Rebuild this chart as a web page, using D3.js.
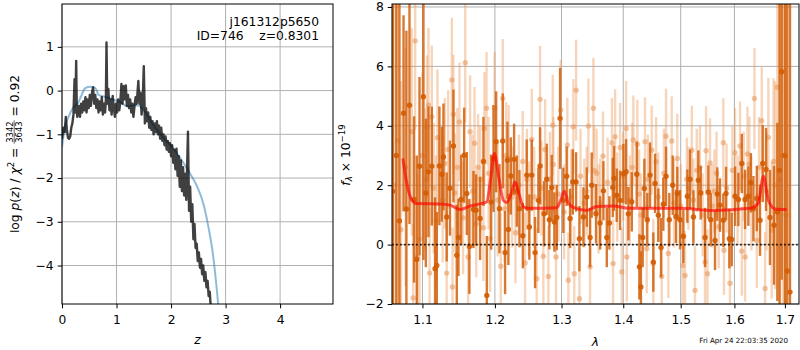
<!DOCTYPE html>
<html>
<head>
<meta charset="utf-8">
<script src="https://cdn.jsdelivr.net/npm/d3@7"></script>
<style>
body { margin: 0; background: #fff; }
text { font-family: "DejaVu Sans", sans-serif; fill: #000; }
</style>
</head>
<body>
<div id="chart-area"></div>
<script>
// p(z) panel
var pzZ = [0.00,0.025,0.05,0.07,0.09,0.11,0.13,0.15,0.17,0.19,0.21,0.23,0.245,0.26,0.27,0.28,0.29,0.31,0.33,0.35,0.37,0.39,0.41,0.43,0.45,0.47,0.49,0.51,0.53,0.55,0.57,0.59,0.61,0.63,0.65,0.67,0.69,0.71,0.73,0.75,0.77,0.79,0.805,0.816,0.83,0.85,0.87,0.89,0.91,0.93,0.95,0.97,0.99,1.01,1.03,1.05,1.07,1.09,1.11,1.13,1.15,1.17,1.19,1.21,1.23,1.25,1.27,1.29,1.31,1.33,1.35,1.37,1.40,1.42,1.44,1.46,1.48,1.50,1.52,1.54,1.56,1.58,1.60,1.62,1.64,1.66,1.68,1.70,1.72,1.74,1.76,1.78,1.80,1.82,1.84,1.86,1.88,1.90,1.92,1.94,1.96,1.98,2.00,2.02,2.04,2.06,2.08,2.10,2.12,2.14,2.16,2.18,2.20,2.22,2.24,2.26,2.28,2.31,2.33,2.35,2.37,2.39,2.41,2.43,2.45,2.47,2.49,2.51,2.53,2.55,2.57,2.59,2.61,2.63,2.65,2.67,2.69,2.71,2.73,2.75];
var pzLog = [-1.10,-0.85,-0.95,-0.60,-0.90,-1.08,-1.10,-1.05,-0.85,-0.75,-0.55,0.26,-0.50,0.68,-0.35,-0.60,-0.50,-0.35,-0.60,-0.30,-0.50,-0.25,-0.45,-0.15,-0.50,-0.20,-0.40,-0.10,-0.35,-0.05,0.07,-0.30,-0.10,-0.40,-0.20,-0.50,-0.25,-0.45,-0.15,-0.55,-0.30,-0.50,-0.20,1.10,-0.30,0.04,-0.45,-0.20,-0.55,-0.12,-0.40,-0.60,-0.30,-0.50,-0.20,-0.45,-0.25,0.15,-0.30,0.10,-0.20,0.12,-0.35,-0.10,-0.40,-0.20,-0.50,-0.30,-0.60,-0.35,-0.15,-0.30,0.22,-0.30,-0.05,-0.55,-0.25,0.56,-0.75,-0.40,-0.70,-0.50,-0.85,-0.60,-0.90,-0.70,-1.00,-0.75,-0.95,-0.70,-1.00,-0.80,-1.10,-0.85,-1.15,-1.00,-1.25,-1.05,-1.35,-1.15,-1.40,-1.20,-1.50,-1.25,-1.65,-1.35,-1.80,-1.33,-1.95,-1.50,-2.20,-1.60,-2.30,-1.75,-2.40,-1.90,-2.50,-0.94,-2.75,-2.20,-3.00,-2.60,-3.40,-3.05,-3.60,-3.50,-3.90,-3.70,-4.05,-3.85,-4.20,-4.00,-4.35,-4.15,-4.50,-4.35,-4.70,-4.60,-5.00,-5.20];
var priorZ = [0,0.05,0.12,0.2,0.3,0.36,0.42,0.5,0.58,0.63,0.67,0.75,0.88,1.06,1.2,1.3,1.4,1.5,1.67,1.86,2.04,2.2,2.35,2.47,2.6,2.69,2.77,2.83,2.86,2.9];
var priorLog = [-1.3,-0.85,-0.6,-0.4,-0.27,-0.1,0.05,0.09,0.08,0.02,-0.1,-0.13,-0.18,-0.26,-0.36,-0.34,-0.34,-0.45,-0.78,-1.08,-1.32,-1.6,-1.9,-2.17,-2.62,-3.15,-3.76,-4.44,-4.83,-5.5];
var zTicks = [0, 1, 2, 3, 4];
var pzTicks = [-4, -3, -2, -1, 0, 1];

// spectrum panel
var darkWave = [1.0615,1.0660,1.0700,1.0753,1.0790,1.0830,1.0890,1.0925,1.0961,1.1013,1.1045,1.1080,1.1124,1.1168,1.1191,1.1226,1.1259,1.1281,1.1325,1.1370,1.1417,1.1463,1.1486,1.1523,1.1565,1.1602,1.1638,1.1695,1.1732,1.1789,1.1836,1.1884,1.1946,1.1980,1.2018,1.2066,1.2114,1.2148,1.2182,1.2196,1.2231,1.2280,1.2320,1.2359,1.2410,1.2468,1.2507,1.2543,1.2593,1.2643,1.2669,1.2730,1.2771,1.2811,1.2848,1.2888,1.2925,1.2977,1.3028,1.3080,1.3134,1.3177,1.3229,1.3282,1.3346,1.3400,1.3453,1.3480,1.3550,1.3616,1.3670,1.3726,1.3769,1.3825,1.3846,1.3891,1.3947,1.4003,1.4048,1.4087,1.4144,1.4229,1.4273,1.4300,1.4331,1.4359,1.4410,1.4458,1.4515,1.4545,1.4603,1.4650,1.4690,1.4738,1.4796,1.4857,1.4916,1.4939,1.4988,1.5048,1.5121,1.5169,1.5231,1.5321,1.5365,1.5445,1.5506,1.5551,1.5631,1.5674,1.5725,1.5788,1.5839,1.5902,1.5948,1.6012,1.6076,1.6142,1.6206,1.6270,1.6318,1.6369,1.6436,1.6499,1.6553,1.6619,1.6698,1.6779,1.6846,1.6890,1.6935,1.7000,1.7048,1.7104];
var darkFlux = [1.8,3.0,0.8,4.42,1.20,4.69,1.52,-0.5,2.64,4.98,1.74,2.45,2.64,-0.81,-0.70,2.65,2.37,2.95,0.93,1.9,3.32,-0.36,0.24,1.52,3.01,1.72,-0.06,1.18,1.16,0.88,2.80,-1.71,1.43,2.9,3.46,1.21,3.49,-0.27,2.84,0.51,2.31,2.87,1.8,1.21,0.3,2.34,0.59,2.34,-0.27,1.49,2.65,1.04,2.2,0.84,1.92,0.76,0.91,4.25,1.49,2.3,0.88,2.11,2.11,0.2,0.93,1.6,0.24,2.0,1.04,0.73,1.81,0.24,0.73,1.92,2.23,1.66,1.49,2.39,2.45,1.04,1.44,2.37,-0.75,-1.43,0.24,1.89,0.84,2.34,-0.59,2.06,0.99,-0.1,1.36,2.3,0.84,2.0,0.95,1.72,0.84,0.28,1.63,2.2,0.93,2.17,1.74,0.24,1.77,0.84,0.14,1.7,1.33,0.82,1.72,0.2,0.17,1.63,1.52,2.73,1.52,1.63,2.08,1.21,1.55,0.82,2.73,2.53,0.91,0.65,1.1,2.5,5.82,3.0,-0.89,-1.6];
var darkErr = [12,10,9,3.3,6,4.0,2.8,3.5,3.0,5.5,2.5,2.2,2.0,2.4,1.8,2.0,1.6,1.8,1.5,1.6,1.9,1.7,1.3,1.5,1.6,1.4,1.6,1.3,1.2,1.4,1.5,2.0,1.6,1.8,1.7,1.5,1.6,1.4,1.3,1.2,1.3,1.2,1.2,1.3,1.1,1.2,1.1,1.2,1.2,1.1,1.3,1.1,1.2,1.0,1.1,1.0,1.1,1.7,1.1,1.0,1.0,1.1,1.0,1.1,1.0,1.0,1.0,1.1,1.0,0.9,1.0,1.0,0.9,1.0,1.1,0.9,1.0,1.0,1.1,0.9,1.0,1.1,1.1,1.2,1.0,1.0,0.9,1.1,1.0,1.0,0.9,1.0,0.9,1.0,0.9,1.0,0.9,0.9,1.0,0.9,0.9,1.0,0.9,1.0,0.9,1.0,0.9,0.9,1.0,0.9,0.9,0.9,0.9,1.0,0.9,1.0,0.9,1.0,1.0,1.0,1.0,1.1,1.1,1.2,1.3,1.4,1.6,2.0,3.0,6.0,7,9,9,10];

var lightWave = [1.0635,1.0680,1.0720,1.0780,1.0860,1.0878,1.0904,1.0935,1.0961,1.1000,1.1040,1.1060,1.1080,1.1095,1.1124,1.1150,1.1180,1.1200,1.1270,1.1300,1.1325,1.1345,1.1395,1.1405,1.1417,1.1437,1.1470,1.1500,1.1550,1.1580,1.1620,1.1648,1.1680,1.1710,1.1735,1.1760,1.1790,1.1836,1.1850,1.1880,1.1910,1.1930,1.1997,1.2040,1.2085,1.2114,1.2140,1.2163,1.2200,1.2250,1.2300,1.2350,1.2408,1.2443,1.2470,1.2500,1.2543,1.2580,1.2618,1.2669,1.2690,1.2719,1.2745,1.2796,1.2820,1.2863,1.2873,1.2914,1.2950,1.2988,1.3040,1.3091,1.3107,1.3150,1.3186,1.3200,1.3229,1.3282,1.3300,1.3360,1.3400,1.3426,1.3453,1.3507,1.3520,1.3560,1.3590,1.3620,1.3663,1.3740,1.3811,1.3830,1.3864,1.3900,1.3947,1.3975,1.4000,1.4048,1.4060,1.4110,1.4150,1.4171,1.4239,1.4270,1.4300,1.4371,1.4400,1.4420,1.4487,1.4515,1.4563,1.4600,1.4662,1.4700,1.4738,1.4779,1.4839,1.4880,1.4939,1.5000,1.5037,1.5078,1.5110,1.5140,1.5201,1.5230,1.5260,1.5292,1.5350,1.5400,1.5445,1.5464,1.5490,1.5538,1.5580,1.5620,1.5660,1.5700,1.5788,1.5800,1.5850,1.5915,1.5960,1.6012,1.6060,1.6108,1.6142,1.6180,1.6206,1.6251,1.6289,1.6330,1.6389,1.6436,1.6480,1.6533,1.6600,1.6630,1.6665,1.6732,1.6770,1.6800,1.6846,1.6900,1.6960,1.7020];
var lightFlux = [2.0,3.5,0.5,2.6,3.8,-1.80,6.86,-0.42,0.17,3.0,2.2,3.97,4.70,-0.96,4.30,1.9,0.8,3.6,1.5,2.73,-0.96,3.2,5.54,-1.43,4.39,1.74,2.6,4.13,0.9,6.12,-0.42,3.80,1.8,3.41,0.7,2.6,2.2,0.57,3.91,4.59,2.4,0.20,4.59,1.5,-0.73,4.92,1.2,3.0,2.9,1.6,0.4,2.0,2.8,-0.62,2.2,1.2,3.54,1.6,-1.15,4.89,1.9,-0.39,3.2,-1.07,2.2,4.02,2.7,-0.42,1.7,4.53,1.1,3.35,-1.2,1.6,3.97,-0.98,5.2,-1.82,2.3,1.4,1.8,3.99,-0.75,4.59,2.5,2.4,1.2,1.4,2.98,2.1,3.43,-0.64,3.63,1.6,3.27,-0.92,2.3,3.91,-0.42,1.5,2.6,3.52,3.38,1.7,1.0,3.46,-0.14,2.2,3.18,-0.64,2.79,1.6,-1.07,2.4,3.65,-0.3,3.49,1.4,2.9,1.3,-0.7,-1.04,2.2,1.9,3.18,1.5,-1.54,2.5,2.6,1.0,-0.59,3.16,-0.98,2.75,1.3,1.8,2.4,0.6,3.43,-0.19,1.9,-1.3,2.5,3.09,1.5,3.32,-0.22,2.3,-0.42,3.05,2.71,1.4,4.92,0.14,2.6,4.17,-1.48,1.8,3.61,0.48,2.8,2.0,5.30,2.19,3.0,1.0];
var lightErr = [8,6,5,4,3.5,2.5,3.0,2.8,2.5,2.8,2.4,2.4,2.6,2.2,2.4,2.2,2.2,2.3,2.1,2.2,2.1,2.0,2.1,2.0,2.0,2.0,2.0,2.0,1.9,2.0,1.9,1.9,1.9,1.9,1.8,1.8,1.8,1.8,1.9,1.9,1.9,1.8,1.9,1.9,1.8,2.0,1.8,1.8,1.8,1.7,1.7,1.7,1.7,1.7,1.7,1.6,1.7,1.7,1.7,1.8,1.6,1.6,1.7,1.7,1.6,1.7,1.6,1.6,1.6,1.7,1.6,1.6,1.6,1.6,1.6,1.6,1.7,1.7,1.6,1.5,1.5,1.6,1.6,1.7,1.5,1.5,1.5,1.5,1.5,1.5,1.5,1.5,1.6,1.5,1.5,1.5,1.5,1.6,1.5,1.5,1.5,1.5,1.5,1.5,1.4,1.5,1.5,1.5,1.5,1.5,1.5,1.5,1.5,1.5,1.6,1.5,1.5,1.5,1.5,1.4,1.5,1.5,1.4,1.4,1.5,1.4,1.5,1.4,1.4,1.4,1.5,1.5,1.5,1.5,1.4,1.4,1.4,1.4,1.5,1.5,1.5,1.5,1.5,1.5,1.5,1.5,1.5,1.5,1.5,1.6,1.6,1.6,1.7,1.6,1.7,1.8,1.9,2.0,2.0,2.3,2.8,3.5,4.5,6,8,8];

var modelWave = [1.0745,1.0800,1.0861,1.0926,1.1236,1.1372,1.1509,1.1648,1.1800,1.1884,1.1938,1.1993,1.2053,1.2123,1.2172,1.2236,1.2295,1.2354,1.2418,1.2500,1.2926,1.2988,1.3045,1.3107,1.3186,1.3399,1.3562,1.3835,1.4115,1.4988,1.5600,1.6302,1.6466,1.6565,1.6665,1.6800,1.7038];
var modelFlux = [2.9,2.0,1.50,1.38,1.37,1.33,1.18,1.30,1.38,1.44,2.2,3.07,2.3,1.49,1.42,1.7,2.11,1.7,1.27,1.22,1.24,1.5,1.8,1.4,1.25,1.15,1.28,1.3,1.22,1.22,1.15,1.22,1.4,2.3,1.5,1.2,1.18];
var waveTicks = [1.1, 1.2, 1.3, 1.4, 1.5, 1.6, 1.7];
var fluxTicks = [-2, 0, 2, 4, 6, 8];

var fontSize = 12.3;

var svg = d3.select('#chart-area')
	.append('svg')
	.attr("width", 800)
	.attr("height", 350);

// SCALES
var x1 = d3.scaleLinear().domain([0, 4.97]).range([62, 333]);
var y1 = d3.scaleLinear().domain([-4.88, 1.98]).range([304, 4]);
var x2 = d3.scaleLog().domain([1.0605, 1.729]).range([392, 799]);
var y2 = d3.scaleLinear().domain([-2, 8.1]).range([304, 4]);

function clip(id, x, y) {
	svg.append("clipPath").attr("id", id)
		.append("rect")
		.attr("x", x.range()[0]).attr("y", y.range()[1])
		.attr("width", x.range()[1] - x.range()[0])
		.attr("height", y.range()[0] - y.range()[1]);
}
clip("clip1", x1, y1);
clip("clip2", x2, y2);

function grid(x, y, xt, yt) {
	var gg = svg.append("g").attr("stroke", "#b0b0b0").attr("stroke-width", 1);
	gg.selectAll(".gx").data(xt).enter().append("line")
		.attr("x1", d => x(d)).attr("x2", d => x(d))
		.attr("y1", y.range()[0]).attr("y2", y.range()[1]);
	gg.selectAll(".gy").data(yt).enter().append("line")
		.attr("x1", x.range()[0]).attr("x2", x.range()[1])
		.attr("y1", d => y(d)).attr("y2", d => y(d));
}
grid(x1, y1, zTicks, pzTicks);
grid(x2, y2, waveTicks, fluxTicks);

// LEFT PANEL LINES
svg.append("path")
	.datum(priorZ.map((z, i) => [z, priorLog[i]]))
	.attr("clip-path", "url(#clip1)")
	.attr("fill", "none")
	.attr("stroke", "#1f77b4")
	.attr("stroke-opacity", 0.5)
	.attr("stroke-width", 2)
	.attr("d", d3.line().x(d => x1(d[0])).y(d => y1(d[1])).curve(d3.curveMonotoneX));
svg.append("path")
	.datum(pzZ.map((z, i) => [z, pzLog[i]]))
	.attr("clip-path", "url(#clip1)")
	.attr("fill", "none")
	.attr("stroke", "#000")
	.attr("stroke-opacity", 0.75)
	.attr("stroke-width", 2.4)
	.attr("stroke-linejoin", "round")
	.attr("d", d3.line().x(d => x1(d[0])).y(d => y1(d[1])));

// SPECTRUM
function errorbars(wave, flux, err, barColor, barOpacity, dotColor, dotOpacity) {
	var data = wave.map((w, i) => ({w: w, f: flux[i], e: err[i]}));
	var gs = svg.append("g").attr("clip-path", "url(#clip2)");
	gs.selectAll("line").data(data).enter().append("line")
		.attr("x1", d => x2(d.w)).attr("x2", d => x2(d.w))
		.attr("y1", d => y2(d.f - d.e)).attr("y2", d => y2(d.f + d.e))
		.attr("stroke", barColor)
		.attr("stroke-opacity", barOpacity)
		.attr("stroke-width", 2.4);
	gs.selectAll("circle").data(data).enter().append("circle")
		.attr("cx", d => x2(d.w)).attr("cy", d => y2(d.f))
		.attr("r", 2.7)
		.attr("fill", dotColor)
		.attr("fill-opacity", dotOpacity);
}
errorbars(lightWave, lightFlux, lightErr, "#ec9a5c", 0.42, "#e8955a", 0.55);
errorbars(darkWave, darkFlux, darkErr, "#d2600c", 0.85, "#d45c02", 0.9);

svg.append("path")
	.datum(modelWave.map((w, i) => [w, modelFlux[i]]))
	.attr("clip-path", "url(#clip2)")
	.attr("fill", "none")
	.attr("stroke", "#ff0000")
	.attr("stroke-opacity", 0.65)
	.attr("stroke-width", 3)
	.attr("d", d3.line().x(d => x2(d[0])).y(d => y2(d[1])).curve(d3.curveMonotoneX));

svg.append("line")
	.attr("x1", x2.range()[0]).attr("x2", x2.range()[1])
	.attr("y1", y2(0)).attr("y2", y2(0))
	.attr("stroke", "#000")
	.attr("stroke-opacity", 0.8)
	.attr("stroke-width", 1.8)
	.attr("stroke-dasharray", "1.8,2.2");

// AXES
function axes(x, y, xt, yt, xf, yf) {
	var xa = svg.append("g")
		.attr("transform", "translate(0," + y.range()[0] + ")")
		.call(d3.axisBottom(x).tickValues(xt).tickFormat(xf).tickSize(4.3).tickPadding(7.3));
	var ya = svg.append("g")
		.attr("transform", "translate(" + x.range()[0] + ",0)")
		.call(d3.axisLeft(y).tickValues(yt).tickFormat(yf).tickSize(4.3).tickPadding(4));
	[xa, ya].forEach(a => {
		a.select(".domain").remove();
		a.selectAll("text").attr("font-size", fontSize).attr("font-family", "DejaVu Sans");
		a.selectAll("line").attr("stroke-width", 1);
	});
	svg.append("rect")
		.attr("x", x.range()[0]).attr("y", y.range()[1])
		.attr("width", x.range()[1] - x.range()[0])
		.attr("height", y.range()[0] - y.range()[1])
		.attr("fill", "none")
		.attr("stroke", "#000")
		.attr("stroke-width", 1);
}
axes(x1, y1, zTicks, pzTicks, d3.format("d"), d3.format("d"));
axes(x2, y2, waveTicks, fluxTicks, d3.format(".1f"), d3.format("d"));

// LABELS
svg.append("text")
	.attr("x", 319).attr("y", 26)
	.attr("text-anchor", "end")
	.attr("font-size", fontSize)
	.text("j161312p5650");
svg.append("text")
	.attr("x", 319).attr("y", 40)
	.attr("text-anchor", "end")
	.attr("font-size", fontSize)
	.style("white-space", "pre")
	.text("ID=746    z=0.8301");

svg.append("text")
	.attr("x", (x1.range()[0] + x1.range()[1]) / 2).attr("y", 344)
	.attr("text-anchor", "middle")
	.attr("font-size", fontSize)
	.attr("font-style", "italic")
	.text("z");
svg.append("text")
	.attr("x", (x2.range()[0] + x2.range()[1]) / 2).attr("y", 346)
	.attr("text-anchor", "middle")
	.attr("font-size", fontSize)
	.attr("font-style", "italic")
	.text("λ");

// y label, left: log p(z) / chi2 = 3342/3643 = 0.92
var yl = svg.append("g");
var t1 = yl.append("text").attr("font-size", fontSize).style("white-space", "pre");
t1.append("tspan").text("log ");
t1.append("tspan").attr("font-style", "italic").text("p");
t1.append("tspan").text("(");
t1.append("tspan").attr("font-style", "italic").text("z");
t1.append("tspan").text(") / ");
t1.append("tspan").attr("font-style", "italic").text("χ");
t1.append("tspan").attr("font-size", 8.6).attr("dy", -5).text("2");
t1.append("tspan").attr("dy", 5).text(" = ");
var w1 = t1.node().getComputedTextLength();
var num = yl.append("text").attr("font-size", 8.4).attr("text-anchor", "middle").attr("y", -6).text("3342");
var fw = num.node().getComputedTextLength() + 2;
num.attr("x", w1 + fw / 2);
yl.append("text").attr("font-size", 8.4).attr("text-anchor", "middle")
	.attr("x", w1 + fw / 2).attr("y", 2.8).text("3643");
yl.append("line")
	.attr("x1", w1).attr("x2", w1 + fw)
	.attr("y1", -4.8).attr("y2", -4.8)
	.attr("stroke", "#000").attr("stroke-width", 0.6);
var t2 = yl.append("text").attr("font-size", fontSize).style("white-space", "pre")
	.attr("x", w1 + fw).text(" = 0.92");
var total = w1 + fw + t2.node().getComputedTextLength();
yl.attr("transform", "translate(19," + (154 + total / 2) + ") rotate(-90)");

// y label, right: f_lambda x 10^-19
var yr = svg.append("text").attr("font-size", fontSize).attr("text-anchor", "middle")
	.attr("transform", "translate(349.5,155) rotate(-90)");
yr.append("tspan").attr("font-style", "italic").text("f");
yr.append("tspan").attr("font-size", 8.6).attr("dy", 2.5).attr("font-style", "italic").text("λ");
yr.append("tspan").attr("dy", -2.5).text(" × 10");
yr.append("tspan").attr("font-size", 8.6).attr("dy", -5).text("−19");

// timestamp
svg.append("text")
	.attr("x", 788).attr("y", 343)
	.attr("text-anchor", "end")
	.attr("font-size", 7.1)
	.text("Fri Apr 24 22:03:35 2020");
</script>
</body>
</html>
